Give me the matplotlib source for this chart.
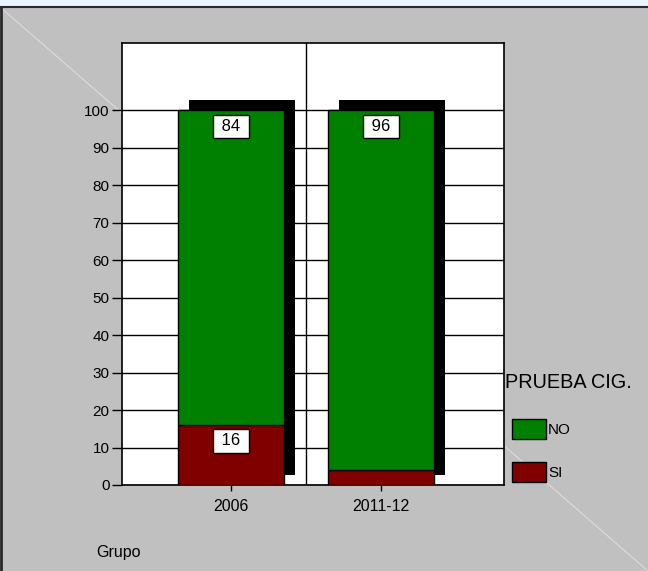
import numpy as np
import matplotlib; matplotlib.use("Agg")
import matplotlib.pyplot as plt
import matplotlib.transforms as mtransforms
from matplotlib.patches import Rectangle, Patch
from matplotlib.lines import Line2D

groups = ["2006", "2011-12"]
si = [16, 4]
no = [84, 96]
lab_si = ["16", ""]
lab_no = ["84", "96"]
yticks = list(range(0, 101, 10))

GRN, RED, GRY = "#008000", "#800000", "#c0c0c0"
plt.rcParams.update({"font.family": ["Liberation Sans", "DejaVu Sans"]})
W, H = 648, 571
fig = plt.figure(figsize=(W / 100, H / 100), dpi=100)
fig.patch.set_facecolor("#eaf4fe")

# slide panel background + border
fig.add_artist(Rectangle((0, 0), 1, 1 - 7 / H, transform=fig.transFigure, fc=GRY, ec="none", zorder=-2))
fig.add_artist(Line2D([0, 1], [1 - 7 / H, 0], transform=fig.transFigure, color="#dcdcdc", lw=0.8, zorder=-1))
fig.add_artist(Line2D([1 / W, 1 / W], [0, 1 - 6.5 / H], transform=fig.transFigure, color="#2a2a2a", lw=2, zorder=1))
fig.add_artist(Line2D([0, 1], [1 - 6.5 / H] * 2, transform=fig.transFigure, color="#2a2a2a", lw=1.5, zorder=1))

ax = fig.add_axes([122 / W, 86 / H, 382 / W, 442 / H])
ax.set_facecolor("white")
x = np.arange(len(groups))
wd = 0.71

for y in yticks:
    ax.axhline(y, color="black", lw=1, zorder=1)
ax.axvline(0.5, color="black", lw=1, zorder=1)

# 3D shadow behind bars
shadow = mtransforms.offset_copy(ax.transData, fig=fig, x=11, y=10, units="dots")
ax.bar(x, np.add(si, no), wd, color="black", transform=shadow, zorder=2)

ax.bar(x, si, wd, color=RED, edgecolor="black", lw=1, zorder=3)
ax.bar(x, no, wd, bottom=si, color=GRN, edgecolor="black", lw=1, zorder=3)

box = dict(boxstyle="square,pad=0.26", fc="white", ec="black", lw=1)
for xi, s, n, ls, ln in zip(x, si, no, lab_si, lab_no):
    if ls:
        ax.text(xi, s - 4.2, f" {ls} ", ha="center", va="center", fontsize=12, bbox=box, zorder=5)
    ax.text(xi, s + n - 4.4, f" {ln} ", ha="center", va="center", fontsize=12, bbox=box, zorder=5)

ax.set_xlim(-0.727, 1.82)
ax.set_ylim(0, 117.9)
ax.set_xticks(x)
ax.set_xticklabels(groups, fontsize=11.5)
ax.set_yticks(yticks)
ax.tick_params(axis="y", labelsize=11, length=7, width=1, pad=2)
ax.tick_params(axis="x", length=4, width=1, pad=6)
for s in ax.spines.values():
    s.set_color("black"); s.set_linewidth(1.2)

fig.text(505 / W, 1 - 382 / H, "PRUEBA CIG.", fontsize=14.3, va="center", ha="left")
ax.legend(handles=[Patch(fc=GRN, ec="black", lw=1, label="NO"), Patch(fc=RED, ec="black", lw=1, label="SI")],
          loc="upper left", bbox_to_anchor=(512 / W, 1 - 419 / H), bbox_transform=fig.transFigure,
          frameon=False, fontsize=11, handlelength=2.2, handleheight=1.65, labelspacing=1.5,
          handletextpad=0.15, borderpad=0, borderaxespad=0)
fig.text(96 / W, 1 - 553 / H, "Grupo", fontsize=11.5, va="center", ha="left")

fig.savefig("out.png", dpi=100, facecolor=fig.get_facecolor())
